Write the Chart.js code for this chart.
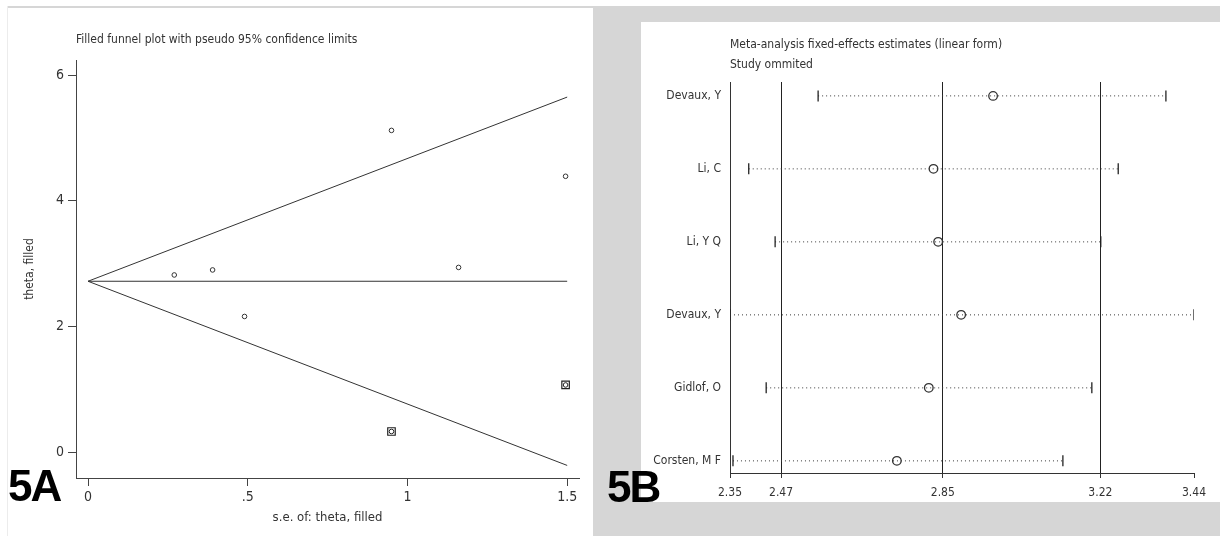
<!DOCTYPE html>
<html>
<head>
<meta charset="utf-8">
<script src="https://cdn.jsdelivr.net/npm/chart.js@4/dist/chart.umd.min.js"></script>
<style>
  body { margin: 0; width: 1220px; height: 536px; background: #fff; position: relative; overflow: hidden; }
  .blk { position: absolute; }
  .lbl { position: absolute; font: bold 44px "Liberation Sans", Arial, sans-serif; line-height: 44px; color: #000; letter-spacing: -2px; }
</style>
</head>
<body>
<!-- fondos de los paneles -->
<div class="blk" style="left:7px;top:6px;width:586px;height:2px;background:#d6d6d6"></div>
<div class="blk" style="left:7px;top:6px;width:1px;height:530px;background:#ececec"></div>
<div class="blk" style="left:593px;top:6px;width:627px;height:530px;background:#d6d6d6"></div>
<div class="blk" style="left:641px;top:22px;width:579px;height:480px;background:#fff"></div>

<div class="blk" style="left:0;top:0;width:593px;height:536px"><canvas id="funnelChart"></canvas></div>
<div class="blk" style="left:641px;top:22px;width:579px;height:480px"><canvas id="influenceChart"></canvas></div>

<div class="lbl" style="left:8px;top:464px">5A</div>
<div class="lbl" style="left:607px;top:465px">5B</div>

<script>
// ---- 5A: funnel plot ----
const funnelTitle = 'Filled funnel plot with pseudo 95% confidence limits';
const seObs = [0.27, 0.39, 0.49, 0.95, 1.16, 1.495];
const thetaObs = [2.82, 2.90, 2.16, 5.12, 2.94, 4.39];
const seFilled = [0.95, 1.495];
const thetaFilled = [0.33, 1.07];
const pooledTheta = 2.72;
const limitSe = [0, 1.5];
const upperLimit = [2.72, 5.65];
const lowerLimit = [2.72, -0.21];
const funnelXTicks = [0, 0.5, 1, 1.5];
const funnelXLabels = ['0', '.5', '1', '1.5'];
const funnelYTicks = [0, 2, 4, 6];

// ---- 5B: influence analysis ----
const influenceTitle = ['Meta-analysis fixed-effects estimates (linear form)', 'Study ommited'];
const studies = ['Devaux, Y', 'Li, C', 'Li, Y Q', 'Devaux, Y', 'Gidlof, O', 'Corsten, M F'];
const estimate = [2.968, 2.828, 2.839, 2.893, 2.817, 2.742];
const lowerCI = [2.557, 2.394, 2.456, 2.35, 2.435, 2.357];
const upperCI = [3.374, 3.262, 3.221, 3.44, 3.200, 3.132];
const influenceXTicks = [2.35, 2.47, 2.85, 3.22, 3.44];
const influenceXLabels = ['2.35', '2.47', '2.85', '3.22', '3.44'];
const referenceLines = [2.47, 2.85, 3.22];

document.addEventListener('DOMContentLoaded', function() {
    const FONT = '"Liberation Sans Narrow", "DejaVu Sans Condensed", "Liberation Sans", sans-serif';
    const INK = '#333';
    Chart.defaults.font.family = FONT;
    Chart.defaults.color = INK;

    const toPts = (xs, ys) => xs.map((x, i) => ({ x: x, y: ys[i] }));
    const limitLine = ys => ({
        data: toPts(limitSe, ys), showLine: true, pointRadius: 0,
        borderColor: INK, borderWidth: 1
    });

    new Chart(document.getElementById('funnelChart'), {
        type: 'scatter',
        data: {
            datasets: [
                limitLine(upperLimit),
                limitLine(limitSe.map(() => pooledTheta)),
                limitLine(lowerLimit),
                {
                    data: toPts(seObs, thetaObs), pointStyle: 'circle', pointRadius: 2.3,
                    borderColor: INK, borderWidth: 1, backgroundColor: 'rgba(0,0,0,0)'
                },
                {
                    data: toPts(seFilled, thetaFilled), pointStyle: 'rect', pointRadius: 5.3,
                    borderColor: '#222', borderWidth: 1.2, backgroundColor: 'rgba(0,0,0,0)'
                },
                {
                    data: toPts(seFilled, thetaFilled), pointStyle: 'circle', pointRadius: 2.3,
                    borderColor: '#222', borderWidth: 1, backgroundColor: 'rgba(0,0,0,0)'
                }
            ]
        },
        options: {
            responsive: true,
            maintainAspectRatio: false,
            animation: false,
            events: [],
            layout: { padding: { left: 0, right: 14, top: 0, bottom: 0 } },
            plugins: {
                legend: { display: false },
                tooltip: { enabled: false },
                title: {
                    display: true, text: funnelTitle, align: 'start', fullSize: false,
                    color: INK, font: { size: 12, weight: 'normal' },
                    padding: { top: 33, bottom: 12.6 }
                }
            },
            scales: {
                x: {
                    type: 'linear', min: -0.0376, max: 1.537,
                    afterBuildTicks: s => { s.ticks = funnelXTicks.map(v => ({ value: v })); },
                    afterFit: s => { s.height = 58; },
                    ticks: { font: { size: 14 }, padding: 3, callback: (v, i) => funnelXLabels[i] },
                    grid: { drawOnChartArea: false, tickLength: 8, tickColor: '#444' },
                    border: { display: true, color: '#444' },
                    title: { display: true, text: 's.e. of: theta, filled', font: { size: 13 }, padding: { bottom: 11 } }
                },
                y: {
                    type: 'linear', min: -0.41, max: 6.24,
                    afterBuildTicks: s => { s.ticks = funnelYTicks.map(v => ({ value: v })); },
                    afterFit: s => { s.width = 76; },
                    ticks: { font: { size: 14 }, padding: 4 },
                    grid: { drawOnChartArea: false, tickLength: 8, tickColor: '#444' },
                    border: { display: true, color: '#444' },
                    title: { display: true, text: 'theta, filled', font: { size: 12 }, padding: { top: 23 } }
                }
            }
        }
    });

    // Una serie por estudio omitido: línea punteada con topes verticales
    const rows = studies.map((name, i) => ({
        data: [{ x: lowerCI[i], y: i }, { x: upperCI[i], y: i }],
        showLine: true, borderDash: [1, 3], borderColor: '#3a3a3a', borderWidth: 1,
        pointStyle: 'line', rotation: 90, pointRadius: 5.5,
        pointBorderColor: '#222', pointBorderWidth: 1.3
    }));
    rows.push({
        data: estimate.map((v, i) => ({ x: v, y: i })),
        pointStyle: 'circle', pointRadius: 4.3,
        pointBorderColor: INK, pointBorderWidth: 1.3, pointBackgroundColor: 'rgba(0,0,0,0)'
    });

    new Chart(document.getElementById('influenceChart'), {
        type: 'scatter',
        data: { datasets: rows },
        options: {
            responsive: true,
            maintainAspectRatio: false,
            animation: false,
            events: [],
            layout: { padding: { left: 0, right: 26, top: 0, bottom: 0 } },
            plugins: {
                legend: { display: false },
                tooltip: { enabled: false },
                title: {
                    display: true, text: influenceTitle, align: 'start', fullSize: false,
                    color: INK, font: { size: 12, weight: 'normal', lineHeight: 1.667 },
                    padding: { top: 13, bottom: 7 }
                }
            },
            scales: {
                x: {
                    type: 'linear', min: 2.35, max: 3.44,
                    afterBuildTicks: s => { s.ticks = influenceXTicks.map(v => ({ value: v })); },
                    afterFit: s => { s.height = 28; },
                    ticks: { font: { size: 12 }, padding: 8, callback: (v, i) => influenceXLabels[i] },
                    grid: {
                        drawOnChartArea: true, tickLength: 4, tickColor: INK,
                        color: c => (c.tick && referenceLines.includes(c.tick.value)) ? '#222' : 'rgba(0,0,0,0)'
                    },
                    border: { display: true, color: INK }
                },
                y: {
                    type: 'linear', reverse: true, min: -0.19, max: 5.18,
                    afterBuildTicks: s => { s.ticks = studies.map((n, i) => ({ value: i })); },
                    afterFit: s => { s.width = 89; },
                    ticks: { font: { size: 12 }, padding: 9, callback: v => studies[v] },
                    grid: { drawOnChartArea: false, drawTicks: false },
                    border: { display: true, color: INK }
                }
            }
        }
    });
});
</script>
</body>
</html>
